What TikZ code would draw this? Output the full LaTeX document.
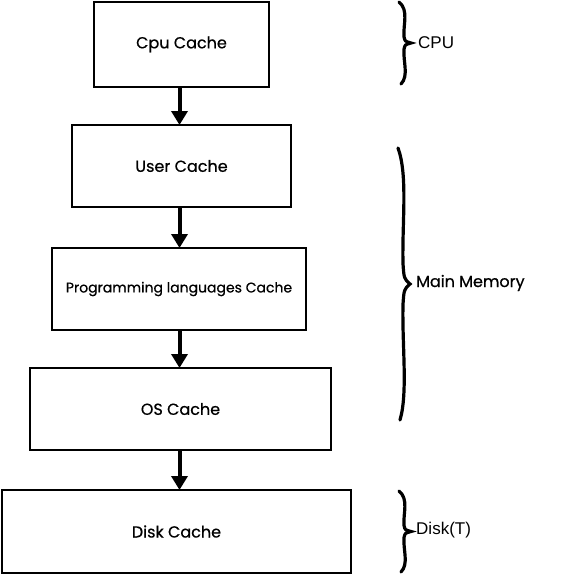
\documentclass[tikz,border=0pt]{standalone}
\usepackage{fontspec}
\setmainfont{Poppins}[FakeBold=0.6]
\newfontfamily\arialfont{Liberation Sans}
\usetikzlibrary{arrows.meta}
\tikzset{
  box/.style={draw=black, line width=2pt, fill=white, font=\fontsize{16}{18}\selectfont, inner sep=0pt},
  arr/.style={line width=4pt, -{Triangle[width=16pt,length=14pt]}, shorten >=-1pt},
  wbr/.style={line width=3.2pt, line cap=round},
  lblA/.style={anchor=west, font=\arialfont\fontsize{17}{19}\selectfont, inner sep=0pt},
  lblB/.style={anchor=west, font=\fontsize{16}{18}\selectfont, inner sep=0pt},
}
\newcommand\wavybrace[3]{% x0, ytop, ybot
  \pgfmathsetmacro\bym{(#2+#3)/2}
  \pgfmathsetmacro\bhh{(#3-#2)/2}
  \draw[wbr] (#1,#2) .. controls ({#1+10},{#2+0.2*\bhh}) and ({#1+4},{\bym-0.45*\bhh}) .. ({#1+5},{\bym-0.15*\bhh})
     .. controls ({#1+6},{\bym-0.04*\bhh}) .. ({#1+12},\bym)
     .. controls ({#1+6},{\bym+0.04*\bhh}) .. ({#1+5},{\bym+0.15*\bhh})
     .. controls ({#1+4},{\bym+0.45*\bhh}) and ({#1+10},{#3-0.2*\bhh}) .. ({#1+2},#3);
}
\begin{document}
\begin{tikzpicture}[x=1pt,y=-1pt]
\useasboundingbox (0,0) rectangle (577,575);
\node[box, minimum width=175pt, minimum height=85pt] (cpu) at (181.5,44.5) {Cpu Cache};
\node[box, minimum width=219pt, minimum height=82pt] (user) at (181.5,166) {User Cache};
\node[box, minimum width=254pt, minimum height=82pt, font=\fontsize{14}{16}\selectfont] (plc) at (179,289) {Programming languages Cache};
\node[box, minimum width=301pt, minimum height=82pt] (os) at (180.5,409) {OS Cache};
\node[box, minimum width=349pt, minimum height=83pt] (disk) at (176.5,531.5) {Disk Cache};
\coordinate (ax) at (179.5,0);
\draw[arr] (cpu.south -| ax) -- (user.north -| ax);
\draw[arr] (user.south -| ax) -- (plc.north -| ax);
\draw[arr] (plc.south -| ax) -- (os.north -| ax);
\draw[arr] (os.south -| ax) -- (disk.north -| ax);
\wavybrace{399}{2}{84}
\wavybrace{398}{148}{420}
\wavybrace{399}{491}{572}
\node[lblA] (lcpu) at (418,43) {CPU};
\node[lblB] (lmm) at (416,283) {Main Memory};
\node[lblA] (ldisk) at (416,530) {Disk(T)};
\end{tikzpicture}
\end{document}
